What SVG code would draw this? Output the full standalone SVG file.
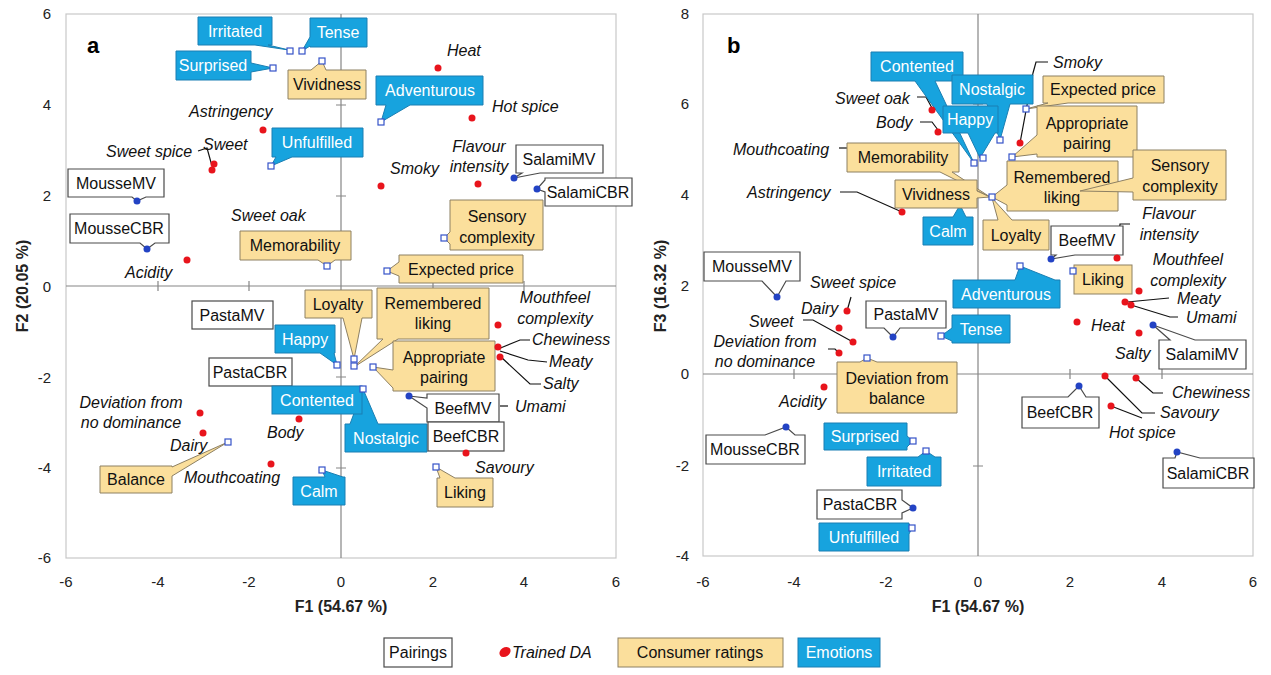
<svg xmlns="http://www.w3.org/2000/svg" width="1271" height="675" viewBox="0 0 1271 675">
<style>
.frame{fill:#fff;stroke:#c8c8c8;stroke-width:1.2}
.axis{stroke:#858585;stroke-width:1.2;fill:none}
.tick{font-family:"Liberation Sans",Arial,sans-serif;font-size:15px;fill:#222}
.ttl{font-family:"Liberation Sans",Arial,sans-serif;font-size:16px;font-weight:bold;fill:#222}
.pl{font-family:"Liberation Sans",Arial,sans-serif;font-size:22px;font-weight:bold;fill:#000}
.b{fill:#17a3de;stroke:#1a7fb3;stroke-width:1}
.y{fill:#fbdf9c;stroke:#8d8063;stroke-width:1}
.w{fill:#fff;stroke:#4a4a4a;stroke-width:1.2}
.tw{font-family:"Liberation Sans",Arial,sans-serif;font-size:16px;fill:#fff;text-anchor:middle}
.tk{font-family:"Liberation Sans",Arial,sans-serif;font-size:16px;fill:#111;text-anchor:middle}
.it{font-family:"Liberation Sans",Arial,sans-serif;font-size:16px;font-style:italic;fill:#111}
.itc{font-family:"Liberation Sans",Arial,sans-serif;font-size:16px;font-style:italic;fill:#111;text-anchor:middle}
.ld{fill:none;stroke:#111;stroke-width:1.2}
.rd{fill:#e8141c}
.bd{fill:#2343c4}
.sq{fill:#fff;stroke:#3553c8;stroke-width:1.2}
</style>
<rect width="1271" height="675" fill="#fff"/>

<!-- ===== Plot a frame & axes ===== -->
<g id="plot-a-axes">
<rect class="frame" x="66" y="14" width="550" height="544"/>
<line class="axis" x1="341" y1="14" x2="341" y2="558"/>
<line class="axis" x1="66" y1="286" x2="616" y2="286"/>
<path class="axis" d="M336 105H346M336 196H346M336 377H346M336 468H346M158 281V291M249 281V291M433 281V291M524 281V291"/>
<g class="tick" text-anchor="end">
<text x="51" y="19">6</text><text x="51" y="110">4</text><text x="51" y="201">2</text><text x="51" y="292">0</text>
<text x="51" y="383">-2</text><text x="51" y="473">-4</text><text x="51" y="563">-6</text>
</g>
<g class="tick" text-anchor="middle">
<text x="66" y="587">-6</text><text x="158" y="587">-4</text><text x="249" y="587">-2</text><text x="341" y="587">0</text>
<text x="433" y="587">2</text><text x="524" y="587">4</text><text x="616" y="587">6</text>
</g>
<text class="ttl" x="341" y="612" text-anchor="middle">F1 (54.67 %)</text>
<text class="ttl" transform="translate(28 286) rotate(-90)" text-anchor="middle">F2 (20.05 %)</text>
<text class="pl" x="87" y="53">a</text>
</g>

<!-- ===== Plot b frame & axes ===== -->
<g id="plot-b-axes">
<rect class="frame" x="703" y="14" width="550" height="542"/>
<line class="axis" x1="978" y1="14" x2="978" y2="556"/>
<line class="axis" x1="703" y1="374" x2="1253" y2="374"/>
<path class="axis" d="M973 104H983M973 195H983M973 286H983M973 466H983M794 369V379M886 369V379M1070 369V379M1162 369V379"/>
<g class="tick" text-anchor="end">
<text x="689" y="19">8</text><text x="689" y="109">6</text><text x="689" y="200">4</text><text x="689" y="291">2</text>
<text x="689" y="379">0</text><text x="689" y="471">-2</text><text x="689" y="561">-4</text>
</g>
<g class="tick" text-anchor="middle">
<text x="703" y="587">-6</text><text x="794" y="587">-4</text><text x="886" y="587">-2</text><text x="978" y="587">0</text>
<text x="1070" y="587">2</text><text x="1162" y="587">4</text><text x="1253" y="587">6</text>
</g>
<text class="ttl" x="978" y="612" text-anchor="middle">F1 (54.67 %)</text>
<text class="ttl" transform="translate(666 286) rotate(-90)" text-anchor="middle">F3 (16.32 %)</text>
<text class="pl" x="727" y="53">b</text>
</g>

<!-- ===== Connectors (leader lines) ===== -->
<g id="connectors">
<polyline class="ld" points="198,151 207,148 212,166"/>
<polyline class="ld" points="530,340 520,340 498,349"/>
<polyline class="ld" points="547,362 528,360 500,351"/>
<polyline class="ld" points="541,384 530,384 501,357"/>
<polyline class="ld" points="500,406 508,406"/>
<polyline class="ld" points="1048,62 1036,62 1033,73 1020,143"/>
<polyline class="ld" points="917,97 926,97 932,108"/>
<polyline class="ld" points="920,122 932,122 938,130"/>
<polyline class="ld" points="839,148 847,148"/>
<polyline class="ld" points="840,192 857,192 902,212"/>
<polyline class="ld" points="1130,224 1120,224 1117,256"/>
<polyline class="ld" points="1169,298 1127,302"/>
<polyline class="ld" points="1178,317 1170,317 1131,305"/>
<polyline class="ld" points="1163,393 1153,393 1136,378"/>
<polyline class="ld" points="1155,413 1142,413 1105,376"/>
<polyline class="ld" points="1111,406 1142,418"/>
<polyline class="ld" points="851,297 847,311"/>
<polyline class="ld" points="803,320 813,320 853,342"/>
<polyline class="ld" points="828,349 835,349 839,353"/>
</g>

<!-- ===== Plot a callouts ===== -->
<g id="a-irritated"><path class="b" d="M198 17H272V45H268L289 50L255 45H198Z"/><text class="tw" x="235" y="37">Irritated</text></g>
<g id="a-tense"><path class="b" d="M310 18H367V47H310V46L302 51L310 37Z"/><text class="tw" x="338" y="38">Tense</text></g>
<g id="a-surprised"><path class="b" d="M176 51H251V63L273 68L251 72V80H176Z"/><text class="tw" x="213" y="71">Surprised</text></g>
<g id="a-vividness"><path class="y" d="M288 70H311L322 61L326 70H366V99H288Z"/><text class="tk" x="327" y="90">Vividness</text></g>
<g id="a-adventurous"><path class="b" d="M376 76H483V105H410L381 122L386 105H376Z"/><text class="tw" x="430" y="96">Adventurous</text></g>
<g id="a-unfulfilled"><path class="b" d="M272 128H363V157H292L271 166L276 157H272Z"/><text class="tw" x="317" y="148">Unfulfilled</text></g>
<g id="a-moussemv"><path class="w" d="M68 169H164V197H146L137 201L132 197H68Z"/><text class="tk" x="116" y="189">MousseMV</text></g>
<g id="a-moussecbr"><path class="w" d="M70 214H169V243H155L147 249L140 243H70Z"/><text class="tk" x="119" y="234">MousseCBR</text></g>
<g id="a-memorability"><path class="y" d="M240 231H351V260H335L327 266L318 260H240Z"/><text class="tk" x="295" y="251">Memorability</text></g>
<g id="a-salamimv"><path class="w" d="M516 145H603V173H540L514 178L522 173H516Z"/><text class="tk" x="559" y="165">SalamiMV</text></g>
<g id="a-salamicbr"><path class="w" d="M545 178H632V206H545V192L537 189L545 180Z"/><text class="tk" x="588" y="198">SalamiCBR</text></g>
<g id="a-sensory"><path class="y" d="M450 200H543V250H450V244L444 238L450 232Z"/><text class="tk" x="497" y="222">Sensory</text><text class="tk" x="497" y="243">complexity</text></g>
<g id="a-expected"><path class="y" d="M399 255H523V283H399V276L387 271L399 262Z"/><text class="tk" x="461" y="275">Expected price</text></g>
<g id="a-loyalty"><path class="y" d="M305 290H372V318H362L354 359L343 318H305Z"/><text class="tk" x="338" y="310">Loyalty</text></g>
<g id="a-remembered"><path class="y" d="M377 288H489V339H398L354 367L383 339H377Z"/><text class="tk" x="433" y="309">Remembered</text><text class="tk" x="433" y="329">liking</text></g>
<g id="a-appropriate"><path class="y" d="M393 341H495V391H393V388L373 367L393 370Z"/><text class="tk" x="444" y="363">Appropriate</text><text class="tk" x="444" y="383">pairing</text></g>
<g id="a-pastamv"><rect class="w" x="192" y="301" width="81" height="28"/><text class="tk" x="232" y="321">PastaMV</text></g>
<g id="a-happy"><path class="b" d="M275 325H335V353H334L337 365L320 353H275Z"/><text class="tw" x="305" y="345">Happy</text></g>
<g id="a-pastacbr"><rect class="w" x="209" y="358" width="83" height="28"/><text class="tk" x="250" y="378">PastaCBR</text></g>
<g id="a-nostalgic"><path class="b" d="M345 424H350L363 389L378 424H427V452H345Z"/><text class="tw" x="386" y="444">Nostalgic</text></g>
<g id="a-contented"><rect class="b" x="272" y="386" width="90" height="28"/><text class="tw" x="317" y="406">Contented</text></g>
<g id="a-balance"><path class="y" d="M100 466H172V467L228 442L172 476V493H100Z"/><text class="tk" x="136" y="485">Balance</text></g>
<g id="a-calm"><path class="b" d="M293 477H325L322 470L343 477H345V505H293Z"/><text class="tw" x="319" y="497">Calm</text></g>
<g id="a-beefmv"><path class="w" d="M427 394H499V422H427V408L409 396L427 398Z"/><text class="tk" x="463" y="414">BeefMV</text></g>
<g id="a-beefcbr"><rect class="w" x="428" y="422" width="76" height="29"/><text class="tk" x="466" y="442">BeefCBR</text></g>
<g id="a-liking"><path class="y" d="M437 478H440L436 467L455 478H493V507H437Z"/><text class="tk" x="465" y="498">Liking</text></g>

<!-- Plot a attribute labels -->
<g id="a-attributes">
<text class="it" x="447" y="56">Heat</text>
<text class="it" x="189" y="117">Astringency</text>
<text class="it" x="492" y="112">Hot spice</text>
<text class="it" x="106" y="157">Sweet spice</text>
<text class="it" x="203" y="150">Sweet</text>
<text class="itc" x="479" y="152">Flavour</text>
<text class="itc" x="479" y="172">intensity</text>
<text class="it" x="390" y="174">Smoky</text>
<text class="it" x="231" y="221">Sweet oak</text>
<text class="it" x="125" y="278">Acidity</text>
<text class="itc" x="555" y="303">Mouthfeel</text>
<text class="itc" x="555" y="324">complexity</text>
<text class="it" x="532" y="345">Chewiness</text>
<text class="it" x="549" y="367">Meaty</text>
<text class="it" x="543" y="389">Salty</text>
<text class="it" x="515" y="412">Umami</text>
<text class="it" x="475" y="473">Savoury</text>
<text class="itc" x="131" y="408">Deviation from</text>
<text class="itc" x="131" y="428">no dominance</text>
<text class="it" x="170" y="451">Dairy</text>
<text class="it" x="267" y="438">Body</text>
<text class="it" x="184" y="483">Mouthcoating</text>
</g>

<!-- ===== Plot b callouts ===== -->
<g id="b-contented"><path class="b" d="M871 52H963V81H935L974 163L915 81H871Z"/><text class="tw" x="917" y="72">Contented</text></g>
<g id="b-nostalgic"><path class="b" d="M952 75H1033V104H1010L1000 140L987 104H952Z"/><text class="tw" x="992" y="95">Nostalgic</text></g>
<g id="b-happy"><path class="b" d="M943 106H998V133H995L980 158L968 133H943Z"/><text class="tw" x="970" y="125">Happy</text></g>
<g id="b-memorability"><path class="y" d="M847 143H959V172H952L990 197L940 172H847Z"/><text class="tk" x="903" y="163">Memorability</text></g>
<g id="b-calm"><path class="b" d="M923 217H953L960 205L966 217H973V245H923Z"/><text class="tw" x="948" y="237">Calm</text></g>
<g id="b-vividness"><path class="y" d="M895 180H977V191L990 197L977 198V208H895Z"/><text class="tk" x="936" y="200">Vividness</text></g>
<g id="b-expected"><path class="y" d="M1043 76H1164V103H1068L1026 109L1048 103H1043Z"/><text class="tk" x="1103" y="95">Expected price</text></g>
<g id="b-appropriate"><path class="y" d="M1037 106H1137V157H1037V154L1012 157L1037 135Z"/><text class="tk" x="1087" y="129">Appropriate</text><text class="tk" x="1087" y="149">pairing</text></g>
<g id="b-remembered"><path class="y" d="M1007 161H1118V211H1007V205L992 197L1007 185Z"/><text class="tk" x="1062" y="183">Remembered</text><text class="tk" x="1062" y="203">liking</text></g>
<g id="b-sensory"><path class="y" d="M1133 150H1226V200H1133V192L1080 191L1133 178Z"/><text class="tk" x="1180" y="171">Sensory</text><text class="tk" x="1180" y="192">complexity</text></g>
<g id="b-loyalty"><path class="y" d="M983 220H998L992 198L1012 220H1049V250H983Z"/><text class="tk" x="1016" y="241">Loyalty</text></g>
<g id="b-beefmv"><path class="w" d="M1051 226H1123V255H1075L1051 259L1056 255H1051Z"/><text class="tk" x="1087" y="246">BeefMV</text></g>
<g id="b-liking"><rect class="y" x="1074" y="265" width="58" height="29"/><text class="tk" x="1103" y="285">Liking</text></g>
<g id="b-adventurous"><path class="b" d="M953 280H1015L1020 266L1055 280H1060V308H953Z"/><text class="tw" x="1006" y="300">Adventurous</text></g>
<g id="b-tense"><path class="b" d="M952 315H1010V343H952V341L941 336L952 328Z"/><text class="tw" x="981" y="335">Tense</text></g>
<g id="b-salamimv"><path class="w" d="M1159 340H1170L1153 325L1195 340H1246V369H1159Z"/><text class="tk" x="1202" y="360">SalamiMV</text></g>
<g id="b-moussemv"><path class="w" d="M704 252H800V281H786L777 297L762 281H704Z"/><text class="tk" x="752" y="272">MousseMV</text></g>
<g id="b-pastamv"><path class="w" d="M866 301H946V328H900L893 337L884 328H866Z"/><text class="tk" x="906" y="320">PastaMV</text></g>
<g id="b-deviation"><path class="y" d="M837 362H860L867 358L877 362H957V413H837Z"/><text class="tk" x="897" y="384">Deviation from</text><text class="tk" x="897" y="404">balance</text></g>
<g id="b-moussecbr"><path class="w" d="M706 435H765L786 427L795 435H805V464H706Z"/><text class="tk" x="755" y="455">MousseCBR</text></g>
<g id="b-beefcbr"><path class="w" d="M1022 397H1068L1079 386L1086 397H1099V428H1022Z"/><text class="tk" x="1060" y="418">BeefCBR</text></g>
<g id="b-salamicbr"><path class="w" d="M1163 458H1175L1177 452L1200 458H1254V488H1163Z"/><text class="tk" x="1208" y="479">SalamiCBR</text></g>
<g id="b-surprised"><path class="b" d="M824 423H907V436L913 441L907 447V450H824Z"/><text class="tw" x="865" y="442">Surprised</text></g>
<g id="b-irritated"><path class="b" d="M867 457H918L926 451L935 457H941V486H867Z"/><text class="tw" x="904" y="477">Irritated</text></g>
<g id="b-pastacbr"><path class="w" d="M817 490H902V500L913 508L902 513V519H817Z"/><text class="tk" x="860" y="510">PastaCBR</text></g>
<g id="b-unfulfilled"><path class="b" d="M819 523H909V524L912 528L909 534V551H819Z"/><text class="tw" x="864" y="543">Unfulfilled</text></g>

<!-- Plot b attribute labels -->
<g id="b-attributes">
<text class="it" x="1053" y="68">Smoky</text>
<text class="it" x="835" y="104">Sweet oak</text>
<text class="it" x="876" y="128">Body</text>
<text class="it" x="733" y="155">Mouthcoating</text>
<text class="it" x="747" y="198">Astringency</text>
<text class="itc" x="1169" y="219">Flavour</text>
<text class="itc" x="1169" y="240">intensity</text>
<text class="itc" x="1188" y="265">Mouthfeel</text>
<text class="itc" x="1188" y="286">complexity</text>
<text class="it" x="1177" y="304">Meaty</text>
<text class="it" x="1186" y="323">Umami</text>
<text class="it" x="1091" y="331">Heat</text>
<text class="it" x="1115" y="359">Salty</text>
<text class="it" x="1172" y="398">Chewiness</text>
<text class="it" x="1160" y="418">Savoury</text>
<text class="it" x="1109" y="438">Hot spice</text>
<text class="it" x="810" y="288">Sweet spice</text>
<text class="it" x="801" y="314">Dairy</text>
<text class="it" x="749" y="327">Sweet</text>
<text class="itc" x="765" y="347">Deviation from</text>
<text class="itc" x="765" y="367">no dominance</text>
<text class="it" x="779" y="407">Acidity</text>
</g>

<!-- ===== Markers ===== -->
<g id="markers-a">
<g class="rd">
<circle cx="263" cy="130" r="3.5"/><circle cx="214" cy="164" r="3.5"/><circle cx="212" cy="170" r="3.5"/>
<circle cx="438" cy="68" r="3.5"/><circle cx="472" cy="118" r="3.5"/><circle cx="478" cy="184" r="3.5"/>
<circle cx="381" cy="186" r="3.5"/><circle cx="187" cy="260" r="3.5"/><circle cx="498" cy="325" r="3.5"/>
<circle cx="498" cy="347" r="3.5"/><circle cx="500" cy="357" r="3.5"/><circle cx="200" cy="413" r="3.5"/>
<circle cx="203" cy="433" r="3.5"/><circle cx="299" cy="419" r="3.5"/><circle cx="271" cy="464" r="3.5"/>
<circle cx="466" cy="453" r="3.5"/>
</g>
<g class="bd">
<circle cx="137" cy="201" r="3.5"/><circle cx="147" cy="249" r="3.5"/><circle cx="514" cy="178" r="3.5"/>
<circle cx="537" cy="189" r="3.5"/><circle cx="409" cy="396" r="3.5"/>
</g>
<g class="sq">
<rect x="287" y="48" width="6" height="6"/><rect x="299" y="48" width="6" height="6"/><rect x="270" y="65" width="6" height="6"/>
<rect x="319" y="58" width="6" height="6"/><rect x="378" y="119" width="6" height="6"/><rect x="268" y="163" width="6" height="6"/>
<rect x="324" y="263" width="6" height="6"/><rect x="441" y="235" width="6" height="6"/><rect x="384" y="268" width="6" height="6"/>
<rect x="351" y="356" width="6" height="6"/><rect x="351" y="363" width="6" height="6"/><rect x="370" y="364" width="6" height="6"/>
<rect x="334" y="362" width="6" height="6"/><rect x="360" y="386" width="6" height="6"/><rect x="225" y="439" width="6" height="6"/>
<rect x="319" y="467" width="6" height="6"/><rect x="433" y="464" width="6" height="6"/>
</g>
</g>
<g id="markers-b">
<g class="rd">
<circle cx="932" cy="110" r="3.5"/><circle cx="938" cy="132" r="3.5"/><circle cx="902" cy="212" r="3.5"/>
<circle cx="1020" cy="143" r="3.5"/><circle cx="1117" cy="258" r="3.5"/><circle cx="1139" cy="291" r="3.5"/>
<circle cx="1125" cy="302" r="3.5"/><circle cx="1131" cy="305" r="3.5"/><circle cx="1077" cy="322" r="3.5"/>
<circle cx="1139" cy="333" r="3.5"/><circle cx="847" cy="311" r="3.5"/><circle cx="839" cy="328" r="3.5"/>
<circle cx="853" cy="342" r="3.5"/><circle cx="839" cy="353" r="3.5"/><circle cx="824" cy="387" r="3.5"/>
<circle cx="1136" cy="378" r="3.5"/><circle cx="1105" cy="376" r="3.5"/><circle cx="1111" cy="406" r="3.5"/>
</g>
<g class="bd">
<circle cx="1051" cy="259" r="3.5"/><circle cx="1153" cy="325" r="3.5"/><circle cx="777" cy="297" r="3.5"/>
<circle cx="893" cy="337" r="3.5"/><circle cx="786" cy="427" r="3.5"/><circle cx="1079" cy="386" r="3.5"/>
<circle cx="1177" cy="452" r="3.5"/><circle cx="913" cy="508" r="3.5"/>
</g>
<g class="sq">
<rect x="1023" y="106" width="6" height="6"/><rect x="997" y="137" width="6" height="6"/><rect x="980" y="155" width="6" height="6"/>
<rect x="971" y="160" width="6" height="6"/><rect x="1009" y="154" width="6" height="6"/><rect x="989" y="194" width="6" height="6"/>
<rect x="1070" y="268" width="6" height="6"/><rect x="1017" y="263" width="6" height="6"/><rect x="938" y="333" width="6" height="6"/>
<rect x="864" y="355" width="6" height="6"/><rect x="910" y="438" width="6" height="6"/><rect x="923" y="448" width="6" height="6"/>
<rect x="909" y="525" width="6" height="6"/>
</g>
</g>

<!-- ===== Legend ===== -->
<g id="legend">
<g id="legend-pairings"><rect class="w" x="384" y="638" width="68" height="29"/><text class="tk" x="418" y="658">Pairings</text></g>
<g id="legend-trained"><ellipse class="rd" cx="505" cy="652" rx="6" ry="4.5" transform="rotate(-35 505 652)"/><text class="it" x="512" y="658">Trained DA</text></g>
<g id="legend-consumer"><rect class="y" x="618" y="638" width="165" height="29"/><text class="tk" x="700" y="658">Consumer ratings</text></g>
<g id="legend-emotions"><rect class="b" x="798" y="638" width="82" height="29"/><text class="tw" x="839" y="658">Emotions</text></g>
</g>
</svg>
